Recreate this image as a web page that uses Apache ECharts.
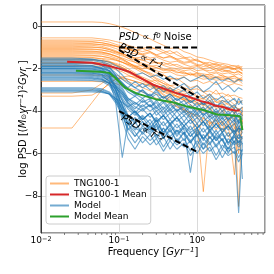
<!DOCTYPE html>
<html><head><meta charset="utf-8">
<script src="https://cdn.jsdelivr.net/npm/echarts@6/dist/echarts.min.js"></script>
<style>html,body{margin:0;padding:0;background:#fff}#c{width:274px;height:274px}</style>
</head><body><div id="c"></div>
<script>
// ---- data ----
const freqs = [0.01,0.025,0.045,0.06,0.075,0.09,0.11,0.13,0.16,0.2,0.25,0.3,0.37,0.45,0.55,0.68,0.82,1.0,1.2,1.45,1.75,2.1,2.5,3.0,3.4,3.8];

const tngPSD = [
 [0.2,0.2,0.2,0.18,0.12,0.05,-0.05,-0.15,-0.3,-0.45,-0.6,-0.75,-0.9,-1.05,-1.0,-1.2,-1.3,-1.45,-1.5,-1.6,-1.7,-1.75,-1.8,-1.9,-1.85,-2.0],
 [-0.55,-0.55,-0.55,-0.6,-0.65,-0.72,-0.8,-0.9,-1.0,-1.05,-0.95,-1.1,-1.25,-1.15,-1.35,-1.5,-1.45,-1.65,-1.7,-1.8,-1.75,-1.9,-1.95,-2.0,-1.9,-2.1],
 [-0.75,-0.75,-0.75,-0.78,-0.85,-0.95,-1.05,-1.1,-1.2,-1.3,-1.2,-1.35,-1.5,-1.4,-1.55,-1.7,-1.65,-1.8,-1.9,-1.85,-2.0,-2.05,-2.1,-2.0,-2.15,-2.2],
 [-0.9,-0.9,-0.9,-0.95,-1.05,-1.15,-1.3,-1.4,-1.55,-1.6,-1.75,-1.7,-1.85,-1.95,-2.0,-2.1,-2.05,-2.2,-2.25,-2.3,-2.2,-2.35,-2.4,-2.35,-2.45,-2.5],
 [-1.0,-1.0,-1.0,-1.02,-1.1,-1.2,-1.35,-1.5,-1.7,-1.9,-2.05,-2.2,-2.3,-2.5,-2.45,-2.7,-2.9,-2.8,-3.1,-3.3,-3.0,-3.4,-3.2,-3.5,-3.6,-3.5],
 [-1.1,-1.1,-1.1,-1.12,-1.18,-1.25,-1.3,-1.4,-1.5,-1.45,-1.6,-1.75,-1.7,-1.85,-1.8,-1.95,-2.0,-1.9,-2.05,-2.1,-2.0,-2.15,-2.1,-2.2,-2.15,-2.25],
 [-1.2,-1.2,-1.2,-1.22,-1.3,-1.4,-1.55,-1.7,-1.9,-2.1,-2.3,-2.5,-2.7,-2.9,-3.1,-3.3,-3.5,-3.3,-3.7,-3.9,-4.2,-3.8,-4.5,-4.1,-4.3,-4.6],
 [-1.3,-1.3,-1.3,-1.32,-1.4,-1.5,-1.6,-1.75,-1.85,-2.0,-1.95,-2.1,-2.2,-2.15,-2.3,-2.35,-2.25,-2.4,-2.5,-2.45,-2.55,-2.5,-2.6,-2.65,-2.55,-2.7],
 [-1.4,-1.4,-1.4,-1.42,-1.48,-1.55,-1.7,-1.85,-2.0,-2.2,-2.4,-2.6,-2.85,-3.0,-3.2,-3.4,-3.7,-4.0,-3.8,-4.3,-4.0,-4.6,-4.2,-4.8,-4.4,-4.5],
 [-1.5,-1.5,-1.5,-1.52,-1.56,-1.6,-1.7,-1.8,-1.95,-2.1,-2.2,-2.35,-2.3,-2.45,-2.5,-2.4,-2.6,-2.55,-2.7,-2.6,-2.75,-2.65,-2.8,-2.7,-2.75,-2.8],
 [-1.6,-1.6,-1.6,-1.62,-1.68,-1.75,-1.85,-2.0,-2.2,-2.45,-2.7,-2.95,-3.2,-3.4,-3.6,-3.9,-4.2,-5.2,-4.3,-4.6,-4.4,-4.9,-4.5,-5.0,-4.7,-4.8],
 [-1.7,-1.7,-1.7,-1.72,-1.78,-1.85,-1.95,-2.1,-2.3,-2.5,-2.75,-3.0,-3.25,-3.5,-3.8,-4.0,-4.3,-4.6,-7.8,-4.5,-4.9,-4.6,-5.2,-4.8,-5.0,-5.3],
 [-0.65,-0.65,-0.65,-0.68,-0.75,-0.85,-0.95,-1.05,-1.2,-1.35,-1.5,-1.45,-1.6,-1.7,-1.65,-1.8,-1.9,-1.85,-2.0,-1.95,-2.1,-2.05,-2.15,-2.2,-2.1,-2.25],
 [-1.25,-1.25,-1.25,-1.27,-1.33,-1.42,-1.55,-1.7,-1.9,-2.05,-2.25,-2.45,-2.6,-2.8,-2.95,-3.1,-3.0,-3.3,-3.45,-3.2,-3.6,-3.5,-3.7,-3.9,-8.5,-3.8],
 [-0.85,-0.85,-0.85,-0.86,-0.9,-0.95,-1.0,-1.05,-1.1,-1.2,-1.1,-1.0,-1.15,-1.3,-1.2,-1.45,-1.6,-1.55,-1.75,-1.85,-1.8,-1.95,-1.9,-2.0,-1.95,-2.05],
 [-3.15,-3.15,-3.0,-2.7,-2.4,-2.3,-2.4,-2.5,-2.6,-2.7,-2.8,-2.9,-3.0,-3.1,-3.2,-3.3,-3.35,-3.5,-3.4,-3.6,-3.55,-3.7,-3.65,-3.8,-3.9,-3.85],
 [-4.8,-4.8,-3.6,-3.0,-2.7,-2.5,-2.45,-2.5,-2.6,-2.7,-2.85,-3.0,-3.1,-3.25,-3.3,-3.45,-3.5,-3.6,-3.7,-3.65,-3.8,-3.75,-3.9,-4.0,-3.95,-4.1],
 [-3.3,-3.3,-3.25,-3.0,-2.7,-2.5,-2.4,-2.35,-2.4,-2.5,-2.6,-2.55,-2.7,-2.8,-2.75,-2.9,-3.0,-2.95,-3.1,-3.05,-3.2,-3.15,-3.3,-3.25,-3.35,-3.4],
 [-1.15,-1.15,-1.17,-1.22,-1.3,-1.4,-1.5,-1.6,-1.7,-1.8,-1.9,-1.85,-2.0,-2.1,-2.05,-2.2,-2.3,-2.25,-2.4,-2.35,-2.45,-2.4,-2.5,-2.45,-2.55,-2.5],
 [-1.45,-1.45,-1.47,-1.55,-1.65,-1.8,-1.95,-2.1,-2.3,-2.5,-2.7,-2.9,-3.05,-3.2,-3.35,-3.5,-3.4,-3.6,-3.75,-3.5,-3.9,-3.7,-4.0,-3.8,-3.9,-4.2],
 [-0.95,-0.95,-0.97,-1.02,-1.1,-1.2,-1.3,-1.4,-1.5,-1.6,-1.55,-1.7,-1.8,-1.75,-1.9,-2.0,-1.95,-2.1,-2.05,-2.2,-2.15,-2.25,-2.2,-2.3,-2.25,-2.35],
 [-1.75,-1.75,-1.76,-1.8,-1.85,-1.95,-2.05,-2.2,-2.35,-2.5,-2.65,-2.8,-2.95,-3.1,-3.3,-3.5,-3.7,-3.9,-4.1,-3.8,-4.3,-4.0,-4.5,-4.2,-6.0,-4.4],
 [-2.3,-2.3,-2.3,-2.32,-2.35,-2.4,-2.5,-2.6,-2.75,-2.9,-3.05,-3.2,-3.35,-3.5,-3.7,-3.9,-4.1,-4.3,-4.5,-4.7,-4.4,-5.0,-4.6,-7.0,-4.8,-5.0],
 [-0.8,-0.8,-0.82,-0.88,-0.95,-1.05,-1.15,-1.25,-1.3,-1.35,-1.25,-1.4,-1.5,-1.45,-1.6,-1.75,-1.7,-1.85,-1.8,-1.95,-1.9,-2.0,-1.95,-2.05,-2.0,-2.1],
 [-1.05,-1.05,-1.07,-1.12,-1.2,-1.3,-1.4,-1.5,-1.6,-1.75,-1.85,-1.95,-2.05,-2.0,-2.15,-2.25,-2.2,-2.35,-2.3,-2.45,-2.4,-2.5,-2.45,-2.6,-2.5,-2.55],
 [-1.35,-1.35,-1.37,-1.42,-1.5,-1.6,-1.7,-1.8,-1.9,-1.85,-2.0,-1.95,-2.1,-2.05,-2.2,-2.15,-2.3,-2.2,-2.35,-2.25,-2.4,-2.3,-2.45,-2.35,-2.5,-2.4],
 [-1.55,-1.55,-1.57,-1.62,-1.7,-1.8,-1.95,-2.1,-2.25,-2.4,-2.55,-2.7,-2.8,-2.95,-3.05,-3.2,-3.1,-3.35,-3.25,-3.5,-3.4,-3.6,-3.45,-3.7,-3.55,-3.6],
 [-0.7,-0.7,-0.72,-0.78,-0.85,-0.92,-1.0,-1.08,-1.15,-1.05,-1.2,-1.35,-1.25,-1.4,-1.55,-1.5,-1.65,-1.6,-1.75,-1.7,-1.85,-1.8,-1.9,-1.85,-1.95,-1.9],
 [-1.85,-1.85,-1.86,-1.9,-1.95,-2.05,-2.15,-2.3,-2.45,-2.6,-2.75,-2.9,-3.0,-3.15,-3.3,-3.4,-3.55,-3.7,-3.6,-3.85,-3.75,-4.0,-3.9,-4.1,-4.0,-4.2],
 [-2.6,-2.6,-2.6,-2.62,-2.65,-2.7,-2.8,-2.9,-3.0,-3.1,-3.25,-3.4,-3.5,-3.65,-3.8,-3.95,-4.1,-4.2,-4.35,-4.5,-4.6,-4.5,-4.8,-4.6,-4.9,-4.7]
];

const modelPSD = [
 [-1.5,-1.5,-1.55,-1.65,-1.8,-2.0,-2.3,-2.6,-2.9,-3.1,-3.3,-3.0,-3.4,-3.2,-3.5,-3.3,-3.6,-3.4,-3.7,-3.3,-3.8,-3.5,-3.6,-3.9,-3.4,-3.7],
 [-1.65,-1.65,-1.7,-1.85,-2.1,-2.5,-3.0,-3.5,-3.8,-4.0,-3.7,-4.2,-3.9,-4.4,-4.0,-4.5,-4.1,-4.6,-4.2,-4.8,-4.3,-4.7,-4.4,-5.0,-4.5,-4.6],
 [-1.8,-1.8,-1.85,-2.0,-2.3,-2.8,-3.5,-4.2,-4.6,-4.3,-4.8,-4.4,-5.0,-4.6,-5.2,-4.7,-5.0,-4.8,-5.4,-4.9,-5.3,-5.0,-5.6,-5.1,-5.5,-5.2],
 [-1.9,-1.9,-1.92,-2.0,-2.15,-2.4,-2.8,-3.1,-3.3,-3.0,-3.4,-3.2,-3.6,-3.3,-3.7,-3.5,-3.9,-3.6,-4.0,-3.7,-4.1,-3.8,-4.2,-3.9,-4.3,-4.0],
 [-2.0,-2.0,-2.02,-2.1,-2.35,-2.9,-3.8,-4.6,-5.2,-4.7,-5.0,-4.6,-5.3,-4.8,-5.5,-5.0,-5.4,-5.1,-5.8,-5.2,-5.6,-5.3,-6.0,-5.4,-5.7,-5.5],
 [-2.1,-2.1,-2.12,-2.2,-2.4,-2.8,-3.3,-3.6,-3.9,-3.5,-3.8,-3.6,-4.1,-3.7,-4.0,-3.8,-4.3,-3.9,-4.2,-4.0,-4.5,-4.1,-4.4,-4.2,-4.6,-4.3],
 [-2.2,-2.2,-2.22,-2.3,-2.6,-3.5,-6.2,-4.5,-4.8,-5.0,-4.6,-5.2,-4.8,-5.4,-4.9,-5.1,-5.5,-5.0,-5.3,-5.6,-5.1,-5.4,-5.8,-5.2,-5.5,-5.3],
 [-2.3,-2.3,-2.32,-2.4,-2.55,-2.8,-3.1,-3.4,-3.6,-3.8,-3.5,-3.9,-3.6,-4.0,-3.7,-4.1,-3.8,-4.2,-3.9,-4.3,-4.0,-4.4,-4.1,-4.5,-4.2,-4.4],
 [-2.4,-2.4,-2.42,-2.5,-2.7,-3.1,-3.7,-4.3,-4.0,-4.4,-4.1,-4.6,-4.2,-4.7,-4.3,-4.9,-6.9,-4.8,-4.5,-5.0,-4.6,-4.9,-4.7,-5.0,-4.8,-4.9],
 [-2.5,-2.5,-2.5,-2.55,-2.7,-2.9,-3.2,-3.5,-3.3,-3.6,-3.4,-3.8,-3.5,-3.9,-3.6,-4.0,-3.7,-4.1,-3.8,-4.2,-3.9,-4.3,-4.0,-4.4,-4.1,-4.2],
 [-1.7,-1.7,-1.72,-1.8,-1.95,-2.2,-2.5,-2.7,-2.9,-2.7,-3.0,-2.8,-3.1,-2.9,-3.2,-3.0,-3.3,-3.1,-3.4,-3.2,-3.5,-3.3,-3.6,-3.4,-3.7,-3.5],
 [-2.05,-2.05,-2.07,-2.15,-2.4,-3.0,-4.0,-5.0,-5.5,-5.0,-5.4,-5.1,-5.7,-5.2,-5.6,-5.3,-5.9,-5.4,-5.8,-5.5,-6.1,-5.6,-5.9,-5.7,-6.2,-5.8],
 [-2.9,-2.9,-2.9,-2.95,-3.1,-3.4,-3.8,-4.2,-4.5,-4.2,-4.6,-4.3,-4.7,-4.4,-4.8,-4.5,-4.9,-4.6,-5.0,-4.7,-5.1,-4.8,-5.2,-4.9,-5.3,-5.0],
 [-3.0,-3.0,-3.0,-3.05,-3.2,-3.6,-4.2,-4.8,-5.2,-4.8,-5.1,-4.7,-5.3,-4.9,-5.4,-5.0,-5.5,-5.1,-5.6,-5.2,-5.7,-5.3,-5.8,-5.4,-8.8,-5.5],
 [-3.1,-3.1,-3.1,-3.12,-3.2,-3.4,-3.6,-3.8,-3.6,-3.9,-3.7,-4.0,-3.8,-4.1,-3.9,-4.2,-4.0,-4.3,-4.1,-4.4,-4.2,-4.5,-4.3,-4.6,-4.4,-7.2],
 [-1.85,-1.85,-1.87,-1.95,-2.1,-2.4,-2.7,-2.9,-2.6,-2.9,-2.7,-3.0,-2.8,-3.1,-2.9,-2.7,-3.0,-2.8,-3.1,-2.9,-2.6,-3.0,-2.8,-3.1,-2.9,-3.0],
 [-1.55,-1.55,-1.57,-1.62,-1.7,-1.85,-2.0,-2.15,-2.3,-2.2,-2.4,-2.3,-2.5,-2.35,-2.55,-2.4,-2.6,-2.45,-2.3,-2.55,-2.4,-2.6,-2.45,-2.65,-2.5,-2.6],
 [-2.25,-2.25,-2.27,-2.35,-2.6,-3.2,-4.2,-4.9,-4.5,-5.1,-4.7,-5.3,-4.8,-5.2,-4.9,-5.4,-5.0,-5.6,-5.1,-5.5,-5.2,-5.8,-5.3,-5.6,-5.4,-5.5],
 [-2.35,-2.35,-2.37,-2.45,-2.65,-3.0,-3.5,-3.9,-4.2,-3.9,-4.3,-4.0,-4.4,-4.1,-4.5,-4.2,-4.6,-4.3,-4.7,-4.4,-4.8,-4.5,-4.9,-4.6,-5.0,-4.7],
 [-1.95,-1.95,-1.97,-2.05,-2.25,-2.6,-3.1,-3.6,-4.0,-4.4,-4.1,-4.5,-4.2,-4.6,-4.3,-4.7,-4.4,-4.8,-4.5,-4.9,-4.6,-5.0,-4.7,-5.1,-4.8,-4.9],
 [-2.15,-2.15,-2.17,-2.25,-2.45,-2.85,-3.4,-3.8,-4.1,-3.7,-4.0,-3.8,-4.2,-3.9,-4.3,-4.0,-4.4,-4.1,-4.5,-4.2,-4.6,-4.3,-4.7,-4.4,-4.8,-4.5],
 [-2.45,-2.45,-2.46,-2.5,-2.7,-3.2,-4.0,-4.6,-5.0,-5.5,-5.1,-5.6,-5.2,-5.8,-5.3,-5.7,-5.4,-6.0,-5.5,-5.9,-5.6,-6.2,-5.7,-6.0,-5.8,-5.9],
 [-1.75,-1.75,-1.77,-1.85,-2.0,-2.3,-2.7,-3.0,-3.2,-3.0,-3.3,-3.1,-3.4,-3.2,-3.5,-3.3,-3.6,-3.4,-3.7,-3.5,-3.8,-3.6,-3.9,-3.7,-4.0,-3.8],
 [-2.95,-2.95,-2.95,-3.0,-3.15,-3.5,-4.1,-4.6,-4.3,-4.7,-4.4,-4.9,-4.5,-5.0,-4.6,-5.1,-4.7,-5.2,-4.8,-5.3,-4.9,-5.4,-5.0,-5.5,-5.1,-5.3],
 [-1.6,-1.6,-1.62,-1.7,-1.9,-2.3,-2.9,-3.4,-3.7,-3.4,-3.8,-3.5,-3.9,-3.6,-4.0,-3.7,-4.1,-3.8,-4.2,-3.9,-4.3,-4.0,-4.4,-4.1,-4.5,-4.2],
 [-2.0,-2.0,-2.02,-2.1,-2.3,-2.7,-3.2,-3.7,-4.1,-4.5,-4.9,-4.4,-5.1,-4.6,-5.0,-4.7,-5.2,-4.8,-5.3,-4.9,-5.4,-5.0,-5.5,-5.1,-5.3,-5.2],
 [-2.55,-2.55,-2.56,-2.6,-2.8,-3.3,-4.4,-5.3,-5.8,-5.2,-5.6,-5.3,-5.9,-5.4,-5.8,-5.5,-6.1,-5.6,-6.0,-5.7,-6.3,-5.8,-6.1,-5.9,-6.4,-6.0],
 [-1.9,-1.9,-1.91,-1.98,-2.1,-2.35,-2.65,-2.95,-3.2,-3.4,-3.2,-3.5,-3.3,-3.6,-3.4,-3.7,-3.5,-3.8,-3.6,-3.9,-3.7,-4.0,-3.8,-4.1,-3.9,-4.0],
 [-2.2,-2.2,-2.21,-2.28,-2.5,-3.0,-3.7,-4.4,-4.9,-4.5,-4.9,-4.6,-5.0,-4.7,-5.1,-4.8,-5.2,-4.9,-5.3,-5.0,-5.4,-5.1,-5.5,-5.2,-5.6,-5.4],
 [-3.05,-3.05,-3.05,-3.08,-3.2,-3.5,-3.9,-4.3,-4.0,-4.4,-4.1,-4.5,-4.2,-4.6,-4.3,-4.7,-4.4,-4.8,-4.5,-4.9,-4.6,-5.0,-4.7,-5.1,-4.8,-5.0]
];

const tngMeanFreq = [0.0216,0.045,0.07,0.1,0.138,0.17,0.273,0.52,0.75,1.09,1.4,1.7,2.2,2.65,3.16,3.5];
const tngMeanPSD  = [-1.68,-1.72,-1.85,-2.0,-2.16,-2.35,-2.76,-3.13,-3.3,-3.52,-3.62,-3.74,-3.82,-3.93,-3.98,-3.95];
const modelMeanFreq = [0.028,0.057,0.075,0.089,0.119,0.17,0.307,0.5,0.745,1.2,1.8,2.6,3.56,3.8];
const modelMeanPSD  = [-2.1,-2.15,-2.2,-2.43,-2.9,-3.18,-3.46,-3.6,-3.79,-3.95,-4.16,-4.2,-4.25,-4.9];

const noiseRefFreq = [0.1, 1.0];
const noiseRefPSD = [-1.0, -1.0];
const slope1RefFreq = [0.1, 1.05];
const slope1RefPSD = [-1.12, -3.37];
const slope2RefFreq = [0.1, 1.0];
const slope2RefPSD = [-4.0, -5.93];

const xMin = 0.01, xMax = 7.4, yMin = -9.75, yMax = 1;
const minorTickVals = [0.02,0.03,0.04,0.05,0.06,0.07,0.08,0.09,0.2,0.3,0.4,0.5,0.6,0.7,0.8,0.9,2,3,4,5,6,7];
const legendNames = ['TNG100-1','TNG100-1 Mean','Model','Model Mean'];

// ---- chart ----
const FONT = 'DejaVu Sans';
const pair = (xs, ys) => xs.map((x, i) => [x, ys[i]]);
const chart = echarts.init(document.getElementById('c'), null, {renderer: 'canvas'});

const ORANGE = '#ff7f0e', BLUE = '#1f77b4', RED = '#d62728', GREEN = '#2ca02c';
const series = [];
tngPSD.forEach(v => series.push({
  name: 'TNG100-1', type: 'line', data: pair(freqs, v), symbol: 'none', silent: true,
  itemStyle: {color: ORANGE}, lineStyle: {color: ORANGE, width: 1, opacity: 0.55}, z: 2
}));
modelPSD.forEach(v => series.push({
  name: 'Model', type: 'line', data: pair(freqs, v), symbol: 'none', silent: true,
  itemStyle: {color: BLUE}, lineStyle: {color: BLUE, width: 1.1, opacity: 0.62}, z: 3
}));
series.push({name: 'TNG100-1 Mean', type: 'line', data: pair(tngMeanFreq, tngMeanPSD), symbol: 'none',
  itemStyle: {color: RED}, lineStyle: {color: RED, width: 2}, z: 5});
series.push({name: 'Model Mean', type: 'line', data: pair(modelMeanFreq, modelMeanPSD), symbol: 'none',
  itemStyle: {color: GREEN}, lineStyle: {color: GREEN, width: 2}, z: 5});
[[noiseRefFreq, noiseRefPSD],[slope1RefFreq, slope1RefPSD],[slope2RefFreq, slope2RefPSD]].forEach(([xs, ys]) => series.push({
  type: 'line', data: pair(xs, ys), symbol: 'none', silent: true,
  lineStyle: {color: '#000', width: 2, type: [6, 3]}, z: 6
}));

const txtRich = {
  i: {fontFamily: FONT, fontStyle: 'italic', fontSize: 10, color: '#000'},
  n: {fontFamily: FONT, fontSize: 10, color: '#000'},
  sup: {fontFamily: FONT, fontStyle: 'italic', fontSize: 7, color: '#000', verticalAlign: 'top', lineHeight: 8}
};
function textMark(x, y, text, pos, rot) {
  series.push({type: 'scatter', data: [[x, y]], symbolSize: 0, silent: true, z: 20,
    itemStyle: {opacity: 1, color: '#000'},
    label: {show: true, position: pos, distance: 0, rotate: rot, formatter: text, rich: txtRich,
      color: '#000', opacity: 1, textBorderWidth: 0}});
}
textMark(0.1, -0.55, '{i|PSD}{n| ∝ }{i|f}{sup|0}{n| Noise}', 'right', 0);
textMark(0.19, -1.45, '{i|PSD}{n| ∝ }{i|f}{sup|−1}', 'inside', -27);
textMark(0.2, -4.85, '{i|PSD}{n| ∝ }{i|f}{sup|−2}', 'inside', -29);

series.push({type: 'custom', silent: true, clip: false, z: 8,
  data: minorTickVals.map(v => [v, yMin]),
  renderItem: (params, api) => {
    const p = api.coord([api.value(0), api.value(1)]);
    return {type: 'line', shape: {x1: p[0], y1: p[1], x2: p[0], y2: p[1] + 2},
      style: {stroke: '#333', lineWidth: 0.6}};
  }});

const axisLbl = {fontFamily: FONT, fontSize: 9, color: '#000'};
chart.setOption({
  animation: false,
  grid: {left: 41, top: 5, right: 9, bottom: 41, show: true, borderColor: '#333', borderWidth: 1, outerBoundsMode: 'none'},
  legend: {
    data: legendNames, orient: 'vertical', left: 46, top: 176,
    itemWidth: 19, itemHeight: 8, itemGap: 2, padding: [3, 4, 3, 3],
    itemStyle: {opacity: 0},
    backgroundColor: 'rgba(255,255,255,0.85)', borderColor: '#cccccc', borderWidth: 1, borderRadius: 3,
    textStyle: {fontFamily: FONT, fontSize: 9, color: '#000'}, selectedMode: false
  },
  xAxis: {
    type: 'log', logBase: 10, min: xMin, max: xMax,
    name: '{n|Frequency [}{i|Gyr}{sup|−1}{n|]}', nameLocation: 'middle', nameGap: 14, nameMoveOverlap: false,
    nameTextStyle: {rich: txtRich},
    axisLine: {lineStyle: {color: '#333', width: 1}},
    axisTick: {length: 3, lineStyle: {color: '#333', width: 0.8}},
    splitLine: {show: true, lineStyle: {color: '#d0d0d0', width: 0.8}},
    axisLabel: {margin: 3, showMaxLabel: false,
      formatter: v => { const e = Math.round(Math.log10(v)); return '{m|10}{e|' + (e < 0 ? '−' : '') + Math.abs(e) + '}'; },
      rich: {m: Object.assign({}, axisLbl), e: {fontFamily: FONT, fontSize: 6.5, color: '#000', verticalAlign: 'top', lineHeight: 7}}}
  },
  yAxis: {
    type: 'value', min: yMin, max: yMax,
    name: '{n|log PSD [(}{i|M}{sub|⊙}{i|yr}{sup|−1}{n|)}{sup2|2}{i|Gyr}{n| ]}', nameLocation: 'middle', nameGap: 13, nameRotate: 90, nameMoveOverlap: false,
    nameTextStyle: {rich: Object.assign({}, txtRich, {
      sub: {fontFamily: FONT, fontSize: 7, color: '#000', verticalAlign: 'bottom', lineHeight: 8},
      sup2: {fontFamily: FONT, fontSize: 7, color: '#000', verticalAlign: 'top', lineHeight: 8}})},
    axisLine: {show: true, lineStyle: {color: '#333', width: 1}},
    axisTick: {show: true, length: 3, lineStyle: {color: '#333', width: 0.8}},
    splitLine: {show: true, lineStyle: {color: '#d0d0d0', width: 0.8}},
    axisLabel: Object.assign({margin: 3, showMinLabel: false, showMaxLabel: false,
      formatter: v => (v < 0 ? '−' : '') + Math.abs(v)}, axisLbl)
  },
  series: series
});
</script></body></html>
